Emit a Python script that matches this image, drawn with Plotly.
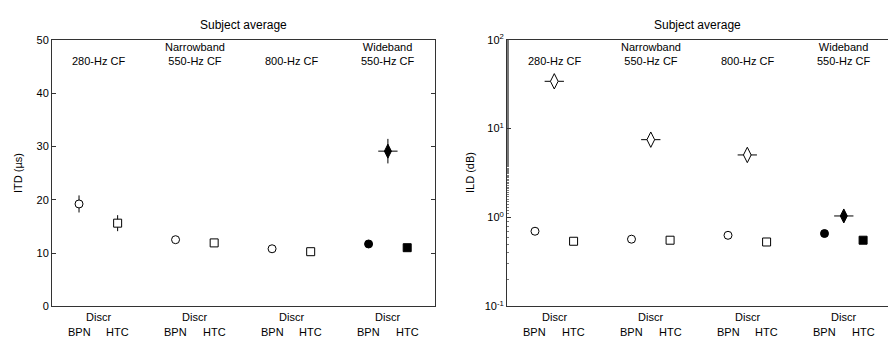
import plotly.graph_objects as go

# ---------------- data ----------------
bpn_x = [1, 3.5, 6]          # open circles (Discr BPN)
htc_x = [2, 4.5, 7]          # open squares (Discr HTC)
wb_bpn_x = [8.5]             # filled circle
wb_htc_x = [9.5]             # filled square
dia_x = [1.5, 4, 6.5]        # open diamonds (ILD panel only)
wb_dia_x = [9]               # filled diamond

itd_bpn = [19.2, 12.5, 10.8]
itd_bpn_err = [1.6, 0.4, 0.4]
itd_htc = [15.6, 11.9, 10.25]
itd_htc_err = [1.5, 0.4, 0.4]
itd_wb_bpn = [11.7]
itd_wb_htc = [11.0]
itd_wb_dia = [29.1]
itd_wb_dia_err = [2.3]

ild_bpn = [0.70, 0.57, 0.63]
ild_htc = [0.54, 0.555, 0.53]
ild_dia = [34.0, 7.5, 5.05]
ild_dia_err = [4.0, 0.5, 0.3]
ild_wb_bpn = [0.66]
ild_wb_htc = [0.555]
ild_wb_dia = [1.04]
ild_wb_dia_err = [0.08]

dia_xerr = [0.25]

group_x = [1.5, 4, 6.5, 9]
group_top = ["280-Hz CF", "Narrowband<br>550-Hz CF", "800-Hz CF", "Wideband<br>550-Hz CF"]
bottom_top = ["Discr", "Discr", "Discr", "Discr"]
pair_labels = ["BPN", "HTC"]

itd_ticks = [0, 10, 20, 30, 40, 50]
ild_tickvals = [0.1, 1, 10, 100]
ild_ticktext = ["10<sup>-1</sup>", "10<sup>0</sup>", "10<sup>1</sup>", "10<sup>2</sup>"]

# ---------------- figure ----------------
W, H = 888, 345
FONT = "Liberation Sans, Arial, sans-serif"
AX = "#333333"

fig = go.Figure()

def open_marker(symbol, size):
    return dict(symbol=symbol, size=size, color="white", line=dict(color="black", width=1))

def fill_marker(symbol, size):
    return dict(symbol=symbol, size=size, color="black", line=dict(color="black", width=1))

ey = lambda arr: dict(type="data", array=arr, visible=True, width=0, color="black", thickness=1)
ex = lambda arr: dict(type="data", array=arr, visible=True, width=0, color="black", thickness=1)

# ITD panel (left)
fig.add_trace(go.Scatter(x=bpn_x, y=itd_bpn, mode="markers", error_y=ey(itd_bpn_err),
                         marker=open_marker("circle", 8), xaxis="x", yaxis="y"))
fig.add_trace(go.Scatter(x=htc_x, y=itd_htc, mode="markers", error_y=ey(itd_htc_err),
                         marker=open_marker("square", 8), xaxis="x", yaxis="y"))
fig.add_trace(go.Scatter(x=wb_bpn_x, y=itd_wb_bpn, mode="markers",
                         marker=fill_marker("circle", 8), xaxis="x", yaxis="y"))
fig.add_trace(go.Scatter(x=wb_htc_x, y=itd_wb_htc, mode="markers",
                         marker=fill_marker("square", 8), xaxis="x", yaxis="y"))
fig.add_trace(go.Scatter(x=wb_dia_x, y=itd_wb_dia, mode="markers",
                         error_y=ey(itd_wb_dia_err), error_x=ex(dia_xerr),
                         marker=fill_marker("diamond-tall", 10), xaxis="x", yaxis="y"))

# ILD panel (right)
fig.add_trace(go.Scatter(x=bpn_x, y=ild_bpn, mode="markers",
                         marker=open_marker("circle", 8), xaxis="x2", yaxis="y2"))
fig.add_trace(go.Scatter(x=htc_x, y=ild_htc, mode="markers",
                         marker=open_marker("square", 8), xaxis="x2", yaxis="y2"))
fig.add_trace(go.Scatter(x=dia_x, y=ild_dia, mode="markers",
                         error_y=ey(ild_dia_err), error_x=ex(dia_xerr * 3),
                         marker=open_marker("diamond-tall", 11), xaxis="x2", yaxis="y2"))
fig.add_trace(go.Scatter(x=wb_bpn_x, y=ild_wb_bpn, mode="markers",
                         marker=fill_marker("circle", 8), xaxis="x2", yaxis="y2"))
fig.add_trace(go.Scatter(x=wb_htc_x, y=ild_wb_htc, mode="markers",
                         marker=fill_marker("square", 8), xaxis="x2", yaxis="y2"))
fig.add_trace(go.Scatter(x=wb_dia_x, y=ild_wb_dia, mode="markers",
                         error_y=ey(ild_wb_dia_err), error_x=ex(dia_xerr),
                         marker=fill_marker("diamond-tall", 10), xaxis="x2", yaxis="y2"))

ydom = [(H - 311) / H, (H - 33) / H]
common_x = dict(showline=True, linecolor=AX, linewidth=1, mirror=True, showgrid=False,
                zeroline=False, ticks="", showticklabels=False, fixedrange=True)
common_y = dict(showline=True, linecolor=AX, linewidth=1, showgrid=False,
                zeroline=False, ticks="inside", ticklen=4, tickcolor=AX,
                tickfont=dict(family=FONT, size=11, color="black"), fixedrange=True)

fig.update_layout(
    width=W, height=H,
    margin=dict(l=0, r=0, t=0, b=0),
    paper_bgcolor="white", plot_bgcolor="white",
    showlegend=False,
    font=dict(family=FONT, size=11, color="black"),
    xaxis=dict(domain=[52 / W, 435 / W], range=[0.30, 10.22], anchor="y", **common_x),
    yaxis=dict(domain=ydom, range=[0, 50], tickvals=itd_ticks, anchor="x",
               mirror="allticks", **common_y),
    xaxis2=dict(domain=[507 / W, 1.0], range=[0.275, 10.145], anchor="y2", **common_x),
    yaxis2=dict(domain=ydom, type="log", range=[-1, 2], tickvals=ild_tickvals,
                ticktext=ild_ticktext, anchor="x2", mirror=False,
                minor=dict(ticks="inside", ticklen=2, tickcolor="#777777", showgrid=False),
                **common_y),
)

ann = []
# titles
for cx in [(52 + 435) / 2, (507 + 888) / 2]:
    ann.append(dict(text="Subject average", x=cx / W, y=1 - 18 / H, xref="paper", yref="paper",
                    showarrow=False, font=dict(size=12), xanchor="center", yanchor="middle"))
# y titles
ann.append(dict(text="ITD (µs)", x=18 / W, y=1 - 172 / H, xref="paper", yref="paper", textangle=-90,
                showarrow=False, font=dict(size=11), xanchor="center", yanchor="middle"))
ann.append(dict(text="ILD (dB)", x=470 / W, y=1 - 172 / H, xref="paper", yref="paper", textangle=-90,
                showarrow=False, font=dict(size=11), xanchor="center", yanchor="middle"))

for xr in ["x", "x2"]:
    for gx, lab, bl in zip(group_x, group_top, bottom_top):
        ann.append(dict(text=lab, x=gx, y=1 - 64 / H, xref=xr, yref="paper", showarrow=False,
                        font=dict(size=11), xanchor="center", yanchor="bottom"))
        ann.append(dict(text=bl, x=gx, y=1 - 322 / H, xref=xr, yref="paper", showarrow=False,
                        font=dict(size=11), xanchor="center", yanchor="middle"))
        for off, pl in zip([-0.5, 0.5], pair_labels):
            ann.append(dict(text=pl, x=gx + off, y=1 - 338 / H, xref=xr, yref="paper", showarrow=False,
                            font=dict(size=11), xanchor="center", yanchor="middle"))

fig.update_layout(annotations=ann)
fig.write_html("out.html", config={"displayModeBar": False},
               post_script="document.body.style.margin='0';document.body.style.overflow='hidden';")
